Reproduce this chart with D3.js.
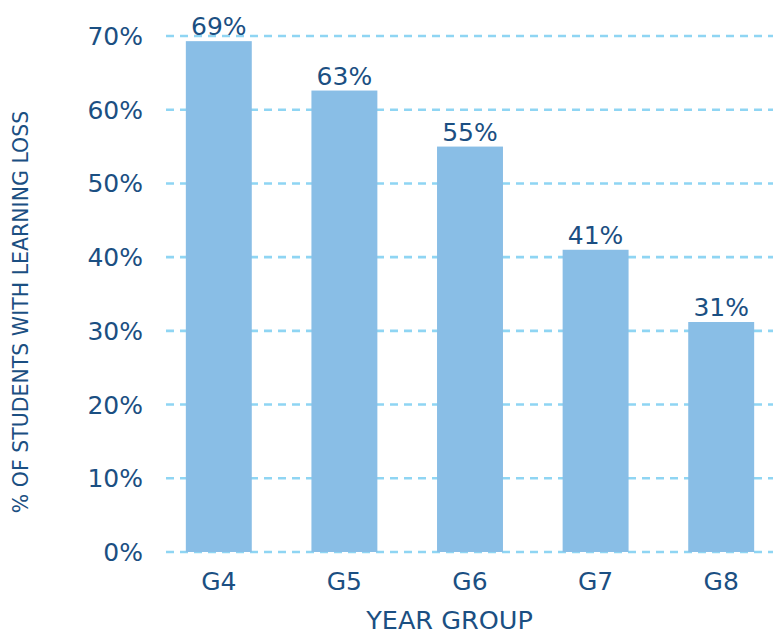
<!DOCTYPE html>
<html><head><meta charset="utf-8">
<script src="https://cdn.jsdelivr.net/npm/d3@7"></script>
<style>html,body{margin:0;padding:0;background:#fff;}svg{display:block;}</style>
</head><body>
<svg id="chart" width="773" height="635"></svg>
<script>
const categories = ["G4", "G5", "G6", "G7", "G8"];
const values = [69.3, 62.6, 55.0, 41.0, 31.2];
const valueLabels = ["69%", "63%", "55%", "41%", "31%"];
const yTicks = [0, 10, 20, 30, 40, 50, 60, 70];
const yTickLabels = ["0%", "10%", "20%", "30%", "40%", "50%", "60%", "70%"];

const textColor = "#1b4f82";
const barColor = "#89bee6";
const gridColor = "#8fd5f3";
const font = "'DejaVu Sans', sans-serif";

const svg = d3.select("#chart");
const x = d3.scaleBand().domain(categories).range([156, 784]).paddingInner(0.475).paddingOuter(0.2375);
const y = d3.scaleLinear().domain([0, 70]).range([552, 36]);

// gridlines
svg.append("g").selectAll("line").data(yTicks).join("line")
  .attr("x1", 166).attr("x2", 773)
  .attr("y1", d => y(d)).attr("y2", d => y(d))
  .attr("stroke", gridColor).attr("stroke-width", 2.6)
  .attr("stroke-dasharray", "8,6");

// bars
svg.append("g").selectAll("rect").data(values).join("rect")
  .attr("x", (d, i) => x(categories[i]))
  .attr("width", x.bandwidth())
  .attr("y", d => y(d))
  .attr("height", d => y(0) - y(d))
  .attr("fill", barColor);

// y tick labels
svg.append("g").selectAll("text").data(yTicks).join("text")
  .attr("x", 143).attr("y", d => y(d)).attr("dy", "0.36em")
  .attr("text-anchor", "end")
  .attr("font-family", font).attr("font-size", 25).attr("fill", textColor)
  .text((d, i) => yTickLabels[i]);

// x tick labels
svg.append("g").selectAll("text").data(categories).join("text")
  .attr("x", d => x(d) + x.bandwidth() / 2).attr("y", 590)
  .attr("text-anchor", "middle")
  .attr("font-family", font).attr("font-size", 25).attr("fill", textColor)
  .text(d => d);

// value labels
svg.append("g").selectAll("text").data(values).join("text")
  .attr("x", (d, i) => x(categories[i]) + x.bandwidth() / 2)
  .attr("y", d => y(d) - 6)
  .attr("text-anchor", "middle")
  .attr("font-family", font).attr("font-size", 25).attr("fill", textColor)
  .text((d, i) => valueLabels[i]);

// axis titles
svg.append("text")
  .attr("x", 449.5).attr("y", 629).attr("text-anchor", "middle")
  .attr("font-family", font).attr("font-size", 25.5).attr("fill", textColor)
  .text("YEAR GROUP");

svg.append("text")
  .attr("transform", "translate(28,312) rotate(-90)")
  .attr("text-anchor", "middle")
  .attr("font-family", font).attr("font-size", 20.5).attr("fill", textColor)
  .text("% OF STUDENTS WITH LEARNING LOSS");
</script>
</body></html>
